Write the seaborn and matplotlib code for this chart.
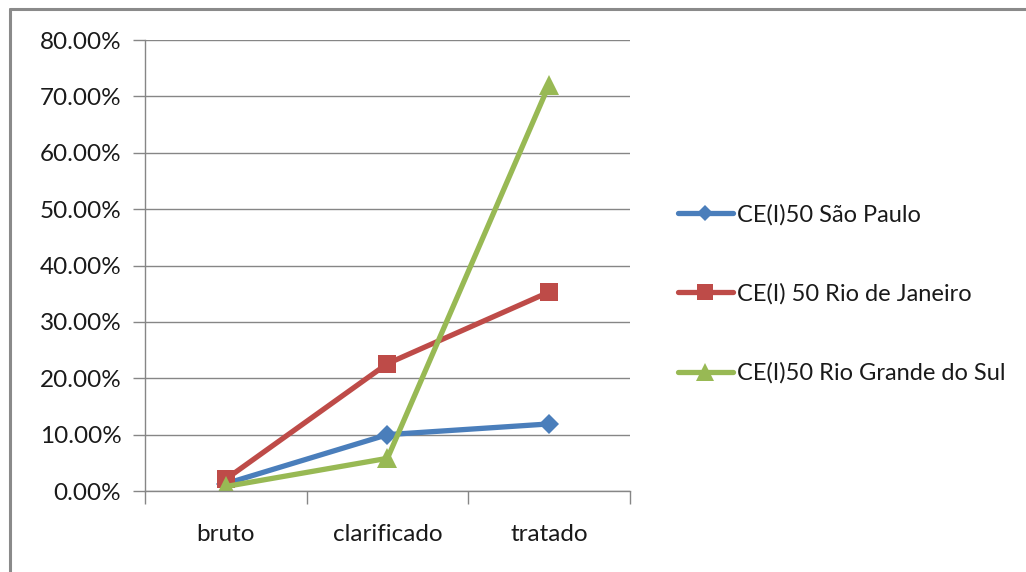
import pandas as pd
import numpy as np
import matplotlib.pyplot as plt
import seaborn as sns
from matplotlib.ticker import PercentFormatter
from matplotlib.lines import Line2D

# values (fractions)
etapas = ["bruto", "clarificado", "tratado"]
sao_paulo = [0.013, 0.100, 0.119]
rio_janeiro = [0.021, 0.226, 0.353]
rio_grande = [0.008, 0.058, 0.721]
series = ["CE(I)50 São Paulo", "CE(I) 50 Rio de Janeiro", "CE(I)50 Rio Grande do Sul"]

df = pd.DataFrame({
    "etapa": etapas * 3,
    "valor": sao_paulo + rio_janeiro + rio_grande,
    "serie": [s for s in series for _ in etapas],
})

sns.set_theme(style="white")
plt.rcParams["font.family"] = ["Lato", "DejaVu Sans"]

fig = plt.figure(figsize=(10.26, 5.72), dpi=100)
ax = fig.add_axes([0.1413, 0.1416, 0.4727, 0.7884])

line_cols = {series[0]: "#4A7EBB", series[1]: "#BE4B48", series[2]: "#98B954"}
markers = {series[0]: "D", series[1]: "s", series[2]: "^"}
msizes = {series[0]: 10, series[1]: 13, series[2]: 15}

for s in series:
    sub = df[df["serie"] == s]
    sns.lineplot(data=sub, x="etapa", y="valor", ax=ax, color=line_cols[s],
                 linewidth=3.8, marker=markers[s], markersize=msizes[s],
                 markeredgewidth=0, label=s, sort=False)

ax.set_xlim(-0.5, 2.5)
ax.set_ylim(0, 0.8)
ax.set_yticks(np.arange(0, 0.81, 0.1))
ax.yaxis.set_major_formatter(PercentFormatter(xmax=1, decimals=2))
ax.set_xticks([0, 1, 2])
ax.set_xticklabels(etapas)
ax.set_xticks([-0.5, 0.5, 1.5, 2.5], minor=True)
ax.tick_params(axis="x", which="major", length=0, pad=24, labelsize=17.5, labelcolor="#1a1a1a")
ax.tick_params(axis="x", which="minor", length=9, width=1, color="#868686", direction="out", bottom=True)
ax.tick_params(axis="y", length=9, width=1, color="#868686", direction="out", left=True,
               labelsize=17.5, labelcolor="#1a1a1a", pad=8)
ax.grid(axis="y", color="#868686", linewidth=1)
ax.set_axisbelow(True)
for side in ["top", "right"]:
    ax.spines[side].set_visible(False)
for side in ["left", "bottom"]:
    ax.spines[side].set_color("#868686")
    ax.spines[side].set_linewidth(1)
ax.set_xlabel("")
ax.set_ylabel("")

leg = ax.legend(loc="center left", bbox_to_anchor=(1.079, 0.437), frameon=False,
                fontsize=17, handlelength=2.35, handletextpad=0.15, labelspacing=2.45,
                markerscale=0.85, borderaxespad=0)
for t in leg.get_texts():
    t.set_color("#1a1a1a")

# outer chart border (top and left visible)
fig.add_artist(Line2D([10 / 1026, 10 / 1026], [0, 1 - 9 / 572], color="#8a8a8a", linewidth=2.2))
fig.add_artist(Line2D([10 / 1026, 1], [1 - 9 / 572, 1 - 9 / 572], color="#8a8a8a", linewidth=2.2))

fig.savefig("out.png", dpi=100)
